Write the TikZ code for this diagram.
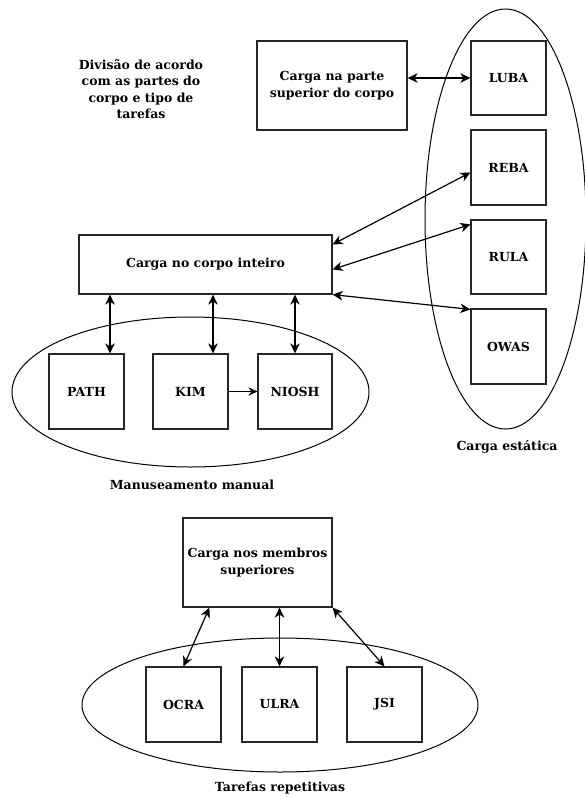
\documentclass[tikz,border=0pt]{standalone}
\usepackage{fontspec}
\setmainfont{DejaVu Serif}
\usetikzlibrary{shapes.geometric,arrows.meta,calc}

\tikzset{
  lbl/.style={font=\fontsize{12.5}{16.5}\selectfont\bfseries, align=center, text=black, inner sep=0pt},
  box/.style={lbl, draw=black!85, line width=1.2pt, rectangle, minimum width=75pt, minimum height=75pt},
  group/.style={draw=black, line width=1pt, ellipse, inner sep=0pt},
  tip/.style={Stealth[length=10pt,width=9.5pt,inset=3pt]},
  link/.style={line width=1.2pt, {Stealth[length=10pt,width=9.5pt,inset=3pt]}-{Stealth[length=10pt,width=9.5pt,inset=3pt]}},
  onelink/.style={line width=1pt, -{Stealth[length=9pt,width=8.5pt,inset=3pt]}}
}

\begin{document}
\begin{tikzpicture}[x=1pt, y=-1pt]
\useasboundingbox[fill=white] (0,0) rectangle (585,798);

% caption of the whole scheme
\node[lbl] (title) at (141,89) {Divisão de acordo\\com as partes do\\corpo e tipo de\\tarefas};

% static load group
\node[group, minimum width=161pt, minimum height=420pt] (static) at (505.5,219) {};
\node[lbl] (staticlbl) at (507,447) {Carga estática};
\node[box, minimum height=74pt] (luba) at (508.5,78) {LUBA};
\node[box] (reba) at (508.5,167.5) {REBA};
\node[box, minimum height=74pt] (rula) at (508.5,257) {RULA};
\node[box] (owas) at (508.5,346.5) {OWAS};

% upper body load
\node[box, minimum width=150pt, minimum height=89pt] (upper) at (332,85.5) {Carga na parte\\superior do corpo};

% whole body load and manual handling group
\node[box, minimum width=253pt, minimum height=59pt] (whole) at (205.5,264.5) {Carga no corpo inteiro};
\node[group, minimum width=357pt, minimum height=150pt] (manual) at (190.5,392) {};
\node[lbl] (manuallbl) at (192,485) {Manuseamento manual};
\node[box] (path) at (86.5,391.5) {PATH};
\node[box] (kim) at (190.5,391.5) {KIM};
\node[box, minimum width=74pt] (niosh) at (295,391.5) {NIOSH};

% upper limbs load and repetitive tasks group
\node[box, minimum width=149pt, minimum height=89pt] (limbs) at (257.5,562.5) {Carga nos membros\\superiores};
\node[group, minimum width=396pt, minimum height=134pt] (repet) at (280,705) {};
\node[lbl] (repetlbl) at (280,788) {Tarefas repetitivas};
\node[box] (ocra) at (183.5,704.5) {OCRA};
\node[box] (ulra) at (279.5,704.5) {ULRA};
\node[box] (jsi) at (384.5,704.5) {JSI};

% anchor points on the box borders
\coordinate (wA) at ($(whole.north east)+(0,10)$);
\coordinate (wB) at ($(whole.north east)+(0,35)$);
\coordinate (rulaIn) at ($(rula.north west)+(0,5)$);
\coordinate (rebaIn) at ($(reba.west)+(0,5)$);
\coordinate (owasIn) at ($(owas.north west)+(0,1)$);
\coordinate (pathTop) at ($(path.north)+(23.5,0)$);
\coordinate (kimTop) at ($(kim.north)+(22.5,0)$);
\coordinate (limbsL) at ($(limbs.south west)+(27,0)$);

% connectors
\draw[link] (upper.east |- luba.west) -- (luba.west);
\draw[link] (wA) -- (rebaIn);
\draw[link] (wB) -- (rulaIn);
\draw[link] (whole.south east) -- (owasIn);
\draw[link] (pathTop |- whole.south) -- (pathTop);
\draw[link] (kimTop |- whole.south) -- (kimTop);
\draw[link] (niosh.north |- whole.south) -- (niosh.north);
\draw[onelink] (kim.east) -- (niosh.west);
\draw[link] (limbsL) -- (ocra.north);
\draw[link] (ulra.north |- limbs.south) -- (ulra.north);
\draw[link] (limbs.south east) -- (jsi.north);
\end{tikzpicture}
\end{document}
